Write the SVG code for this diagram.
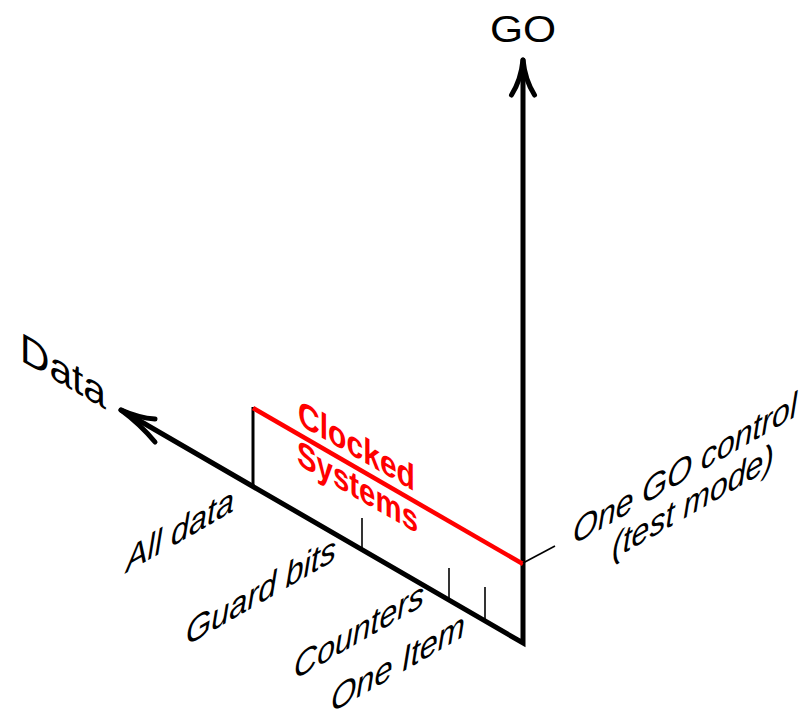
<svg xmlns="http://www.w3.org/2000/svg" width="811" height="721" viewBox="0 0 811 721">
<style>
  text { font-family: "Liberation Sans", Arial, Helvetica, sans-serif; fill: #000; }
  .lbl { font-size: 35px; font-style: italic; }
  .red { fill: #ff0000; font-weight: bold; font-size: 36px; }
  .axis { stroke: #000; stroke-width: 5; fill: none; stroke-linecap: round; stroke-linejoin: miter; }
  .head { stroke: #000; stroke-width: 5; fill: none; stroke-linecap: round; stroke-linejoin: round; }
  .thin { stroke: #000; stroke-width: 1.6; fill: none; }
</style>
<rect width="811" height="721" fill="#fff"/>
<g id="connectors">
  <path class="axis" d="M121,410 L523,643 L523,60"/>
  <path class="head" d="M511.5,95 Q521,80 523,60 Q525,80 534.5,95"/>
  <path class="head" d="M155,419 Q139,418 121,410 Q140,424 155,442"/>
  <line x1="253" y1="407" x2="253" y2="488" stroke="#000" stroke-width="3"/>
  <line x1="253" y1="408" x2="523" y2="564" stroke="#ff0000" stroke-width="4.5"/>
  <line class="thin" x1="362" y1="518" x2="362" y2="551"/>
  <line class="thin" x1="449" y1="568" x2="449" y2="601"/>
  <line class="thin" x1="485" y1="587" x2="485" y2="622"/>
  <line class="thin" x1="523" y1="563" x2="555" y2="546"/>
</g>
<g id="go-label">
  <text transform="translate(523,42) scale(1.15,1)" text-anchor="middle" font-size="37">GO</text>
</g>
<g id="data-label">
  <text transform="matrix(1,0.5774,0,1,20,360)" font-size="41" textLength="86" lengthAdjust="spacingAndGlyphs">Data</text>
</g>
<g id="clocked-systems">
  <text class="red" transform="matrix(1,0.5774,0,1,298,424)" textLength="117" lengthAdjust="spacingAndGlyphs">Clocked</text>
  <text class="red" transform="matrix(1,0.5774,0,1,297,464)" textLength="121" lengthAdjust="spacingAndGlyphs">Systems</text>
</g>
<g id="all-data">
  <text class="lbl" transform="matrix(1,-0.5774,0,1,126,573)" textLength="108" lengthAdjust="spacingAndGlyphs">All data</text>
</g>
<g id="guard-bits">
  <text class="lbl" transform="matrix(1,-0.5774,0,1,186,646)" textLength="150" lengthAdjust="spacingAndGlyphs">Guard bits</text>
</g>
<g id="counters">
  <text class="lbl" transform="matrix(1,-0.5774,0,1,294,680)" textLength="130" lengthAdjust="spacingAndGlyphs">Counters</text>
</g>
<g id="one-item">
  <text class="lbl" transform="matrix(1,-0.5774,0,1,331,713)" textLength="134" lengthAdjust="spacingAndGlyphs">One Item</text>
</g>
<g id="one-go-control">
  <text class="lbl" transform="matrix(1,-0.5774,0,1,573,545)" textLength="224" lengthAdjust="spacingAndGlyphs">One GO control</text>
  <text class="lbl" transform="matrix(1,-0.5774,0,1,612,560)" textLength="162" lengthAdjust="spacingAndGlyphs">(test mode)</text>
</g>
</svg>
